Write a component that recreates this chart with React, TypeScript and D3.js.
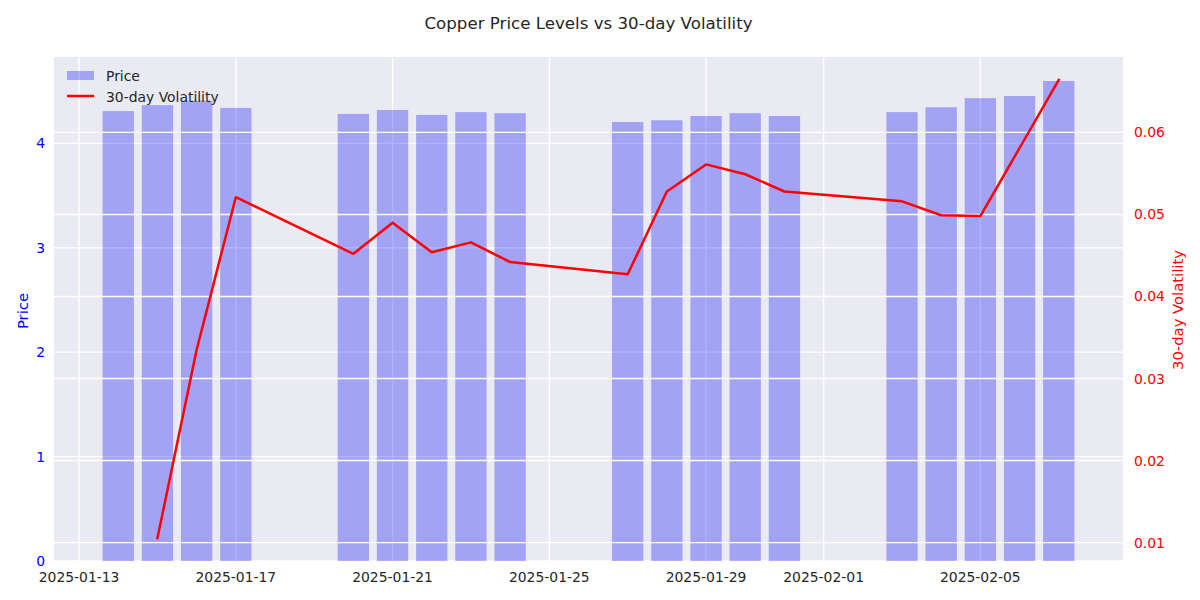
import React from "react";
import * as d3 from "d3";

const dates: string[] = [
  "2025-01-14", "2025-01-15", "2025-01-16", "2025-01-17",
  "2025-01-20", "2025-01-21", "2025-01-22", "2025-01-23", "2025-01-24",
  "2025-01-27", "2025-01-28", "2025-01-29", "2025-01-30", "2025-01-31",
  "2025-02-03", "2025-02-04", "2025-02-05", "2025-02-06", "2025-02-07",
];
const prices: number[] = [
  4.309, 4.366, 4.41, 4.339,
  4.282, 4.319, 4.272, 4.299, 4.289,
  4.205, 4.221, 4.262, 4.289, 4.262,
  4.299, 4.346, 4.433, 4.453, 4.597,
];
const volatility: (number | null)[] = [
  null, 0.01055, 0.0335, 0.0521,
  0.0452, 0.049, 0.0454, 0.0466, 0.0442,
  0.0427, 0.0528, 0.0561, 0.0549, 0.0528,
  0.0516, 0.0499, 0.0498, 0.0581, 0.0664,
];
const xTickLabels: string[] = [
  "2025-01-13", "2025-01-17", "2025-01-21", "2025-01-25",
  "2025-01-29", "2025-02-01", "2025-02-05",
];
const priceTicks: number[] = [0, 1, 2, 3, 4];
const volTicks: number[] = [0.01, 0.02, 0.03, 0.04, 0.05, 0.06];

const W = 1200;
const H = 600;
const L = 54;
const R = 1123;
const T = 57;
const B = 561;
const DAY = 86400000;
const FONT = "DejaVu Sans, sans-serif";
const TXT = "#262626";

const parse = (s: string) => new Date(s + "T00:00:00Z").getTime();

export default function App() {
  const times = dates.map(parse);
  const minT = d3.min(times)! - 0.4 * DAY;
  const maxT = d3.max(times)! + 0.4 * DAY;
  const padX = (maxT - minT) * 0.05;
  const x = d3.scaleLinear().domain([minT - padX, maxT + padX]).range([L, R]);

  const pMax = d3.max(prices)!;
  const yP = d3.scaleLinear().domain([0, pMax * 1.05]).range([B, T]);

  const vVals = volatility.filter((v): v is number => v !== null);
  const vMin = d3.min(vVals)!;
  const vMax = d3.max(vVals)!;
  const vPad = (vMax - vMin) * 0.05;
  const yV = d3.scaleLinear().domain([vMin - vPad, vMax + vPad]).range([B, T]);

  const barW = x(0.8 * DAY) - x(0);

  const lineGen = d3
    .line<{ t: number; v: number | null }>()
    .defined((d) => d.v !== null)
    .x((d) => x(d.t))
    .y((d) => yV(d.v as number));
  const linePath = lineGen(times.map((t, i) => ({ t, v: volatility[i] }))) || "";

  return (
    <svg
      width={W}
      height={H}
      style={{ position: "absolute", left: 0, top: 0, background: "#fff" }}
      fontFamily={FONT}
    >
      <rect x={0} y={0} width={W} height={H} fill="#fff" />
      <rect x={L} y={T} width={R - L} height={B - T} fill="#EAEAF2" />
      <defs>
        <clipPath id="plotclip">
          <rect x={L} y={T} width={R - L} height={B - T} />
        </clipPath>
      </defs>
      {/* ax1 grid (under bars) */}
      <g clipPath="url(#plotclip)">
        {xTickLabels.map((s) => (
          <line key={s} x1={x(parse(s))} x2={x(parse(s))} y1={T} y2={B} stroke="#fff" strokeWidth={1.4} />
        ))}
        {priceTicks.map((p) => (
          <line key={p} x1={L} x2={R} y1={yP(p)} y2={yP(p)} stroke="#fff" strokeWidth={1.4} />
        ))}
        {/* bars */}
        {times.map((t, i) => (
          <rect
            key={i}
            x={x(t) - barW / 2}
            y={yP(prices[i])}
            width={barW}
            height={B - yP(prices[i])}
            fill="blue"
            fillOpacity={0.3}
          />
        ))}
      </g>
      {/* legend (ax1) */}
      <g fontSize={13.9} fill={TXT}>
        <rect x={67} y={71} width={27} height={9} fill="blue" fillOpacity={0.3} />
        <text x={106} y={75.5} dominantBaseline="central">Price</text>
        <line x1={67} x2={94} y1={96} y2={96} stroke="red" strokeWidth={2.5} />
        <text x={106} y={96.5} dominantBaseline="central">30-day Volatility</text>
      </g>
      {/* ax2 grid (over bars) */}
      <g clipPath="url(#plotclip)">
        {volTicks.map((v) => (
          <line key={v} x1={L} x2={R} y1={yV(v)} y2={yV(v)} stroke="#fff" strokeWidth={1.4} />
        ))}
        <path d={linePath} fill="none" stroke="red" strokeWidth={2.5} strokeLinejoin="round" strokeLinecap="square" />
      </g>
      {/* x tick labels */}
      <g fontSize={13.9} fill={TXT} textAnchor="middle">
        {xTickLabels.map((s) => (
          <text key={s} x={x(parse(s))} y={577} dominantBaseline="central">{s}</text>
        ))}
      </g>
      {/* left ticks */}
      <g fontSize={13.9} fill="blue" textAnchor="end">
        {priceTicks.map((p) => (
          <text key={p} x={45} y={yP(p)} dominantBaseline="central">{p}</text>
        ))}
      </g>
      {/* right ticks */}
      <g fontSize={13.9} fill="red" textAnchor="start">
        {volTicks.map((v) => (
          <text key={v} x={1134} y={yV(v)} dominantBaseline="central">{d3.format(".2f")(v)}</text>
        ))}
      </g>
      <text
        transform={`translate(22,${(T + B) / 2 + 2}) rotate(-90)`}
        textAnchor="middle"
        dominantBaseline="central"
        fontSize={14.8}
        fill="blue"
      >
        Price
      </text>
      <text
        transform={`translate(1177,${(T + B) / 2 + 1}) rotate(-90)`}
        textAnchor="middle"
        dominantBaseline="central"
        fontSize={14.8}
        fill="red"
      >
        30-day Volatility
      </text>
      <text x={(L + R) / 2} y={23} textAnchor="middle" dominantBaseline="central" fontSize={16.67} fill={TXT}>
        Copper Price Levels vs 30-day Volatility
      </text>
    </svg>
  );
}
